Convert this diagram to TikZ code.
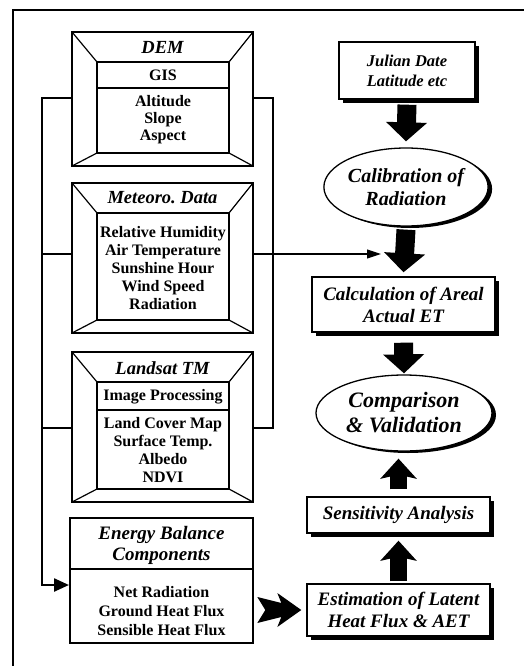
\documentclass[tikz,border=0pt]{standalone}
\usepackage{fontspec}
\setmainfont{Liberation Serif}
\usetikzlibrary{arrows.meta,shadows,shapes.geometric}
\frenchspacing
\newcommand\bevelbox[5]{%
  \node[bev, minimum width={#4-#2}, minimum height={#5-#3}] (#1) at (#2,#3) {};
  \draw[innerl] (#2+25,#3+30) rectangle (#4-24,#5-13);
  \draw[innerl] (#2,#3)--(#2+25,#3+30) (#4,#3)--(#4-24,#3+30)
                (#2,#5)--(#2+25,#5-13) (#4,#5)--(#4-24,#5-13);
}
\begin{document}
\begin{tikzpicture}[x=1pt,y=-1pt,
  frame/.style={line width=2.8pt},
  trunk/.style={line width=2.4pt},
  bev/.style={draw,line width=1.8pt,anchor=north west,inner sep=0pt,outer sep=0pt},
  innerl/.style={line width=1.2pt},
  thinl/.style={line width=1.1pt},
  hd/.style={font=\fontsize{18.5}{21}\selectfont\bfseries\itshape,align=center,inner sep=0pt},
  bd/.style={font=\fontsize{16}{18}\selectfont\bfseries,align=center,inner sep=0pt},
  rbox/.style={draw,line width=1.4pt,fill=white,inner sep=0pt,align=center,
    font=\fontsize{19}{22}\selectfont\bfseries\itshape,
    drop shadow={shadow xshift=4pt,shadow yshift=-4pt,opacity=1,fill=black}},
  rell/.style={ellipse,draw,line width=1.3pt,fill=white,inner sep=0pt,align=center,
    drop shadow={shadow xshift=4pt,shadow yshift=-2pt,opacity=1,fill=black}},
  fatdown/.style={line width=19pt,-{Triangle[length=19pt,width=40pt]}},
  fatup/.style={line width=17pt,-{Stealth[length=20pt,width=36pt,inset=4pt]}},
]
\useasboundingbox (0,0) rectangle (524,666);
\draw[frame] (13,667) -- (13,10) -- (525,10);

% left column
\bevelbox{dem}{72}{32}{253}{166}
\node[hd] (demh) at (162.5,47) {DEM};
\draw[innerl] (97,88) -- (229,88);
\node[bd] (gis) at (163,75.5) {GIS};
\node[bd,font=\fontsize{16}{17}\selectfont\bfseries] (demb) at (163,120) {Altitude\\Slope\\Aspect};

\bevelbox{met}{72}{183}{253}{333}
\node[hd] (meth) at (162.5,198) {Meteoro. Data};
\node[bd] (metb) at (163,268) {Relative Humidity\\Air Temperature\\Sunshine Hour\\Wind Speed\\Radiation};

\bevelbox{lan}{72}{352}{253}{502}
\node[hd] (lanh) at (162.5,368) {Landsat TM};
\node[bd] (ip) at (163,397) {Image Processing};
\draw[innerl] (97,410) -- (229,410);
\node[bd] (lanb) at (163,450) {Land Cover Map\\Surface Temp.\\Albedo\\NDVI};

\node[bev, minimum width=183pt, minimum height=125pt] (ene) at (70,518) {};
\draw[innerl] (70,569) -- (253,569);
\node[hd,font=\fontsize{19}{21}\selectfont\bfseries\itshape] (eneh) at (161.5,545.5) {Energy Balance\\Components};
\node[bd,font=\fontsize{16}{19}\selectfont\bfseries] (eneb) at (161.5,611) {Net Radiation\\Ground Heat Flux\\Sensible Heat Flux};

% right column
\node[rbox,minimum width=136pt,minimum height=57pt,font=\fontsize{16.5}{20}\selectfont\bfseries\itshape] (jul) at (407,70.5) {Julian Date\\Latitude etc};
\node[rell,minimum width=146pt,minimum height=78pt,font=\fontsize{20}{23}\selectfont\bfseries\itshape] (cal) at (406,187) {Calibration of\\Radiation};
\node[rbox,minimum width=183pt,minimum height=55pt] (calc) at (403.5,304.5) {Calculation of Areal\\Actual ET};
\node[rell,minimum width=176pt,minimum height=76pt,font=\fontsize{22}{25}\selectfont\bfseries\itshape] (comp) at (404,413) {Comparison\\\& Validation};
\node[rbox,minimum width=183pt,minimum height=36pt] (sens) at (398.5,515) {Sensitivity Analysis};
\node[rbox,minimum width=183pt,minimum height=52pt] (est) at (398.5,610) {Estimation of Latent\\Heat Flux \& AET};

% coordinates for connectors
\coordinate (lt) at (42,98);
\coordinate (rt) at (273,98);
\coordinate (ym) at (0,254);
\coordinate (yl) at (0,428);
\coordinate (ein) at (69,585);
\coordinate (ta) at (381,254);

% trunk connectors
\draw[trunk,-{Triangle[length=15pt,width=13pt]}] (dem.west |- lt) -- (lt) |- (ein);
\draw[trunk] (lt |- ym) -- (met.west |- ym);
\draw[trunk] (lt |- yl) -- (lan.west |- yl);
\draw[trunk] (dem.east |- rt) -- (rt) |- (lan.east |- yl);
\draw[thinl,-{Triangle[length=14pt,width=9pt]}] (met.east |- ym) -- (ta);

% block arrows
\draw[fatdown] ([yshift=-5pt]jul.south) -- ([yshift=6pt]cal.north);
\draw[fatdown] ([yshift=-3pt]cal.south) -- ([yshift=4pt]calc.north);
\draw[fatdown] ([yshift=-10pt]calc.south) -- ([yshift=1pt]comp.north);
\draw[fatup] ([yshift=7pt]sens.north) -- ([yshift=-7pt]sens.north |- comp.south);
\draw[fatup] ([yshift=2pt]est.north) -- ([yshift=-7pt]est.north |- sens.south);

\coordinate (ea) at ([xshift=-49pt]est.west);
\fill ([shift={(0,-13)}]ea) -- ([shift={(24,-7)}]ea) -- ([shift={(20,-17)}]ea)
  -- ([shift={(44,0)}]ea) -- ([shift={(20,17)}]ea) -- ([shift={(24,7)}]ea)
  -- ([shift={(0,13)}]ea) -- ([shift={(8,0)}]ea) -- cycle;
\end{tikzpicture}
\end{document}
